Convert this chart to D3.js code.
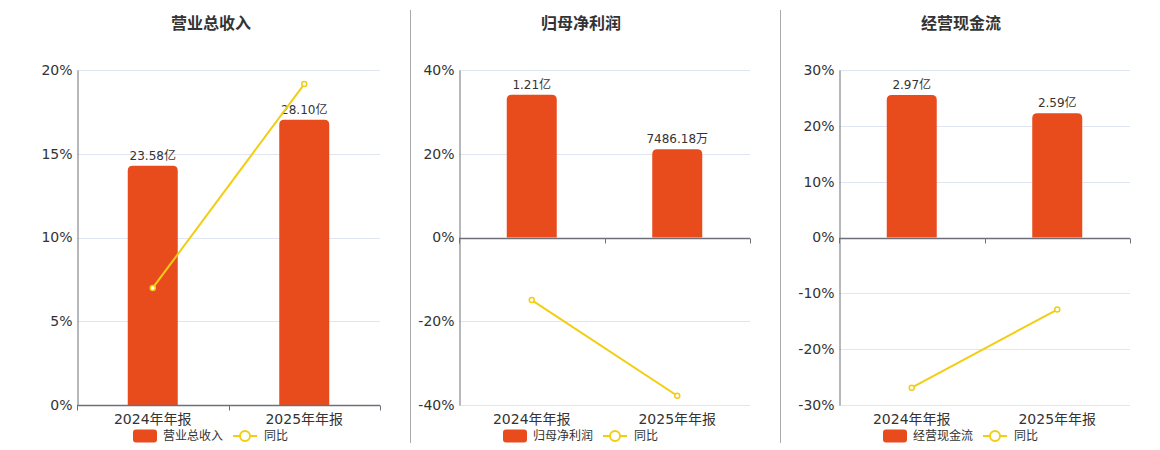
<!DOCTYPE html>
<html>
<head>
<meta charset="utf-8">
<script src="https://cdn.jsdelivr.net/npm/d3@7"></script>
<style>
  body { margin: 0; background: #fff; }
  text { font-family: "DejaVu Sans", "Noto Sans CJK SC", sans-serif; fill: #333; }
</style>
</head>
<body>
<div id="chart"></div>
<script>
var categories = ['2024年年报', '2025年年报'];
var panelTitles = ['营业总收入', '归母净利润', '经营现金流'];
var barValues = [[23.58, 28.10], [1.21, 0.7486], [2.97, 2.59]];
var barLabels = [['23.58亿', '28.10亿'], ['1.21亿', '7486.18万'], ['2.97亿', '2.59亿']];
var barDomainMax = [33, 1.42, 3.49];
var yoyValues = [[6.99, 19.16], [-14.95, -37.8], [-26.9, -12.9]];
var yTicks = [[0, 5, 10, 15, 20], [-40, -20, 0, 20, 40], [-30, -20, -10, 0, 10, 20, 30]];
var yoyName = '同比';

var barColor = '#e84b1c',
    lineColor = '#f2cd14';

var svg = d3.select('#chart')
  .append('svg')
  .attr('width', 1160)
  .attr('height', 450);

var panels = [
  { left: 77, right: 380, center: 211 },
  { left: 459, right: 750, center: 581 },
  { left: 839, right: 1130, center: 961 }
];
var plotTop = 70, plotBottom = 405;

// dividers between panels
[410.5, 780.5].forEach(function(x) {
  svg.append('line')
    .attr('x1', x).attr('x2', x)
    .attr('y1', 10).attr('y2', 443)
    .attr('stroke', '#aaa');
});

function topRoundedBar(x, y, w, h, r) {
  r = Math.min(r, h, w / 2);
  return 'M' + x + ',' + (y + h) +
    'V' + (y + r) +
    'Q' + x + ',' + y + ' ' + (x + r) + ',' + y +
    'H' + (x + w - r) +
    'Q' + (x + w) + ',' + y + ' ' + (x + w) + ',' + (y + r) +
    'V' + (y + h) + 'Z';
}

panels.forEach(function(p, i) {
  var ticks = yTicks[i];
  var yMin = d3.min(ticks), yMax = d3.max(ticks);

  var x = d3.scaleBand().domain(categories).range([p.left, p.right]);
  var y = d3.scaleLinear().domain([yMin, yMax]).range([plotBottom, plotTop]);
  var yBar = d3.scaleLinear()
    .domain([yMin / yMax * barDomainMax[i], barDomainMax[i]])
    .range([plotBottom, plotTop]);

  var g = svg.append('g');

  // title
  g.append('text')
    .attr('x', p.center)
    .attr('y', 23)
    .attr('dy', '0.35em')
    .attr('text-anchor', 'middle')
    .style('font-family', '"Noto Sans CJK SC", sans-serif')
    .style('font-size', '16px')
    .style('font-weight', 'bold')
    .text(panelTitles[i]);

  // grid
  g.selectAll('.grid')
    .data(ticks)
    .enter().append('line')
    .attr('x1', p.left).attr('x2', p.right)
    .attr('y1', function(d) { return Math.round(y(d)) + 0.5; })
    .attr('y2', function(d) { return Math.round(y(d)) + 0.5; })
    .attr('stroke', '#e0e6f1');

  // left axis
  var yAxis = g.append('g')
    .attr('transform', 'translate(' + (p.left + 0.5) + ',0)')
    .call(d3.axisLeft(y).tickValues(ticks).tickSize(0).tickPadding(5)
      .tickFormat(function(d) { return d + '%'; }));
  yAxis.select('.domain').attr('stroke', '#6e7079');
  yAxis.selectAll('text').style('font-size', '14px').style('fill', '#333');

  // bars
  var data = categories.map(function(c, j) {
    return { cat: c, value: barValues[i][j], label: barLabels[i][j], yoy: yoyValues[i][j] };
  });
  var bw = 50;
  g.selectAll('.bar')
    .data(data)
    .enter().append('path')
    .attr('fill', barColor)
    .attr('d', function(d) {
      var bx = x(d.cat) + x.bandwidth() / 2 - bw / 2;
      return topRoundedBar(bx, yBar(d.value), bw, yBar(0) - yBar(d.value), 5);
    });

  g.selectAll('.barlabel')
    .data(data)
    .enter().append('text')
    .attr('x', function(d) { return x(d.cat) + x.bandwidth() / 2; })
    .attr('y', function(d) { return yBar(d.value) - 6; })
    .attr('text-anchor', 'middle')
    .style('font-size', '12px')
    .text(function(d) { return d.label; });

  // zero axis with boundary ticks
  var zeroY = Math.round(y(0)) + 0.5;
  g.append('line')
    .attr('x1', p.left).attr('x2', p.right)
    .attr('y1', zeroY).attr('y2', zeroY)
    .attr('stroke', '#6e7079')
    .attr('stroke-width', 1.5);
  var bounds = categories.map(function(c) { return x(c); }).concat([p.right]);
  g.selectAll('.xtick')
    .data(bounds)
    .enter().append('line')
    .attr('x1', function(d) { return Math.round(d) + 0.5; })
    .attr('x2', function(d) { return Math.round(d) + 0.5; })
    .attr('y1', zeroY).attr('y2', zeroY + 5)
    .attr('stroke', '#6e7079');

  // category labels along the bottom
  var xAxis = g.append('g')
    .attr('transform', 'translate(0,' + plotBottom + ')')
    .call(d3.axisBottom(x).tickSize(0).tickPadding(9));
  xAxis.select('.domain').remove();
  xAxis.selectAll('text').style('font-size', '14px').style('fill', '#333');

  // yoy line
  var line = d3.line()
    .x(function(d) { return x(d.cat) + x.bandwidth() / 2; })
    .y(function(d) { return y(d.yoy); });
  g.append('path')
    .datum(data)
    .attr('fill', 'none')
    .attr('stroke', lineColor)
    .attr('stroke-width', 2)
    .attr('d', line);
  g.selectAll('.dot')
    .data(data)
    .enter().append('circle')
    .attr('cx', function(d) { return x(d.cat) + x.bandwidth() / 2; })
    .attr('cy', function(d) { return y(d.yoy); })
    .attr('r', 2.5)
    .attr('fill', '#fff')
    .attr('stroke', lineColor)
    .attr('stroke-width', 1.5);

  // legend
  var lx = p.center - 78, ly = 436;
  var lg = g.append('g');
  lg.append('rect')
    .attr('x', lx).attr('y', ly - 6.5)
    .attr('width', 24).attr('height', 13)
    .attr('rx', 3)
    .attr('fill', barColor);
  lg.append('text')
    .attr('x', lx + 30).attr('y', ly)
    .attr('dy', '0.35em')
    .style('font-size', '12px')
    .style('font-family', '"Noto Sans CJK SC", sans-serif')
    .text(panelTitles[i]);
  lg.append('line')
    .attr('x1', lx + 100).attr('x2', lx + 124)
    .attr('y1', ly).attr('y2', ly)
    .attr('stroke', lineColor)
    .attr('stroke-width', 2);
  lg.append('circle')
    .attr('cx', lx + 112).attr('cy', ly)
    .attr('r', 5)
    .attr('fill', '#fff')
    .attr('stroke', lineColor)
    .attr('stroke-width', 2);
  lg.append('text')
    .attr('x', lx + 131).attr('y', ly)
    .attr('dy', '0.35em')
    .style('font-size', '12px')
    .style('font-family', '"Noto Sans CJK SC", sans-serif')
    .text(yoyName);
});
</script>
</body>
</html>
